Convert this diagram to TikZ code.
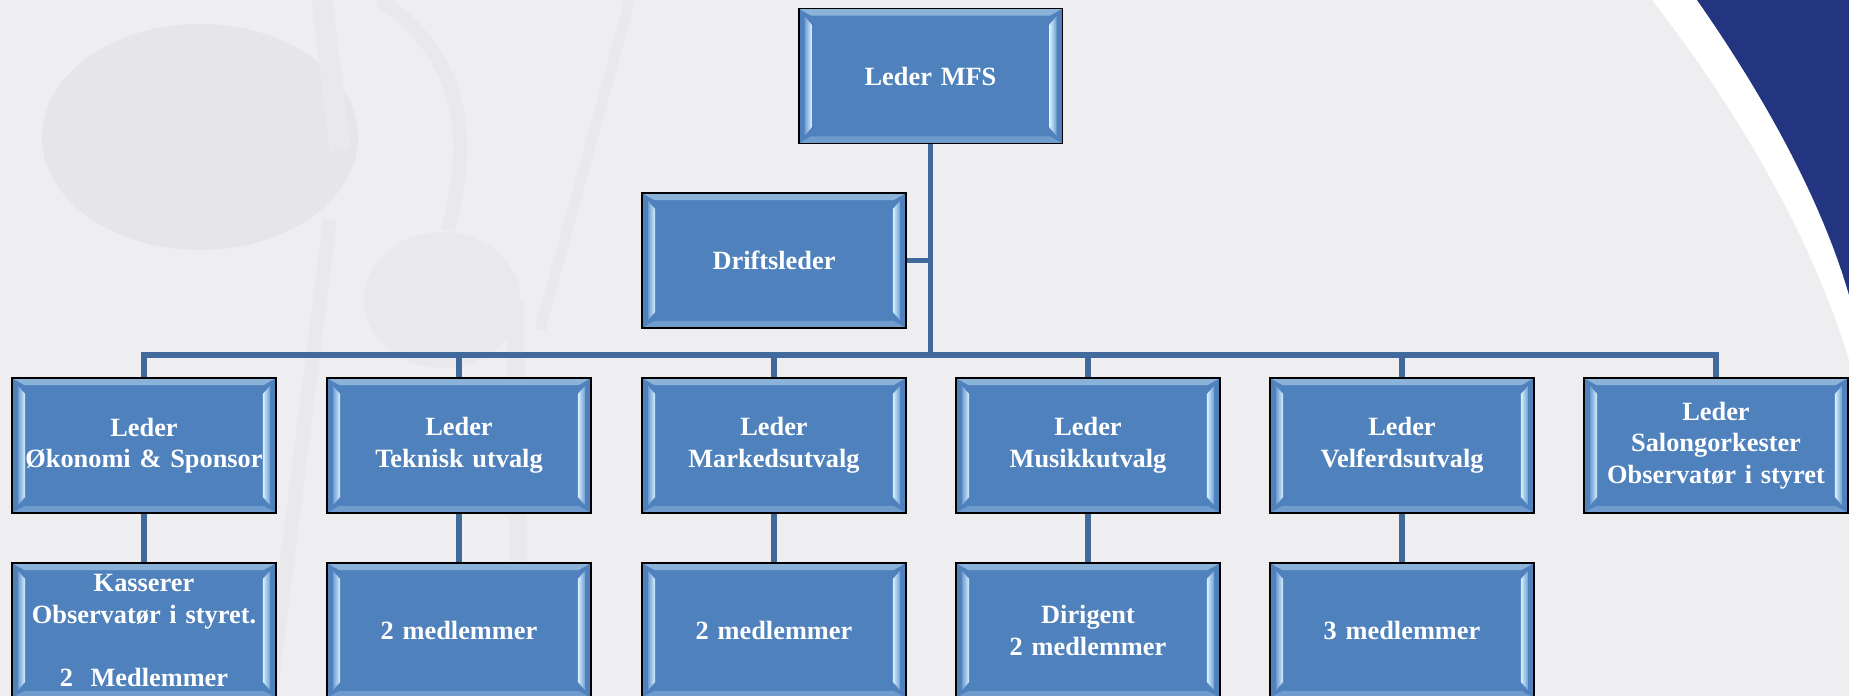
\documentclass[tikz,border=0pt]{standalone}
\usepackage{fontspec}
\setmainfont{Liberation Serif}

\definecolor{bgpaper}{HTML}{EEEDEF}
\definecolor{notegray}{HTML}{E6E5E7}
\definecolor{stemgray}{HTML}{E9E8EA}
\definecolor{boxblue}{HTML}{4F81BD}
\definecolor{linkblue}{HTML}{41699C}
\definecolor{navyswoosh}{HTML}{233580}
\definecolor{bevelhi}{HTML}{D6F0FF}
\definecolor{bevello}{HTML}{6F9DD2}

\tikzset{
    orgbox/.style={draw=black, line width=1.1pt, fill=boxblue, minimum width=5.28cm, minimum height=2.7cm,
        text width=5.2cm, inner sep=0pt, align=center, text=white, font=\bfseries\fontsize{15}{18}\selectfont,
        path picture={
            \fill[bevelhi, opacity=0.45] (path picture bounding box.north west) -- (path picture bounding box.north east)
                -- ([xshift=-7pt,yshift=-4pt]path picture bounding box.north east) -- ([xshift=7pt,yshift=-4pt]path picture bounding box.north west) -- cycle;
            \fill[bevelhi, opacity=0.25] (path picture bounding box.south west) -- (path picture bounding box.south east)
                -- ([xshift=-7pt,yshift=4pt]path picture bounding box.south east) -- ([xshift=7pt,yshift=4pt]path picture bounding box.south west) -- cycle;
            \shade[left color=bevello, right color=bevelhi] ([xshift=3.4pt,yshift=-4.5pt]path picture bounding box.north west)
                -- ([xshift=7.4pt,yshift=-9pt]path picture bounding box.north west) -- ([xshift=7.4pt,yshift=9pt]path picture bounding box.south west)
                -- ([xshift=3.4pt,yshift=4.5pt]path picture bounding box.south west) -- cycle;
            \shade[left color=bevelhi, right color=bevello] ([xshift=-3.4pt,yshift=-4.5pt]path picture bounding box.north east)
                -- ([xshift=-7.4pt,yshift=-9pt]path picture bounding box.north east) -- ([xshift=-7.4pt,yshift=9pt]path picture bounding box.south east)
                -- ([xshift=-3.4pt,yshift=4.5pt]path picture bounding box.south east) -- cycle;
        }},
    link/.style={draw=linkblue, line width=3.4pt}
}

\begin{document}
\begin{tikzpicture}[x=0.02cm, y=-0.02cm]
            \useasboundingbox (0, 0) rectangle (1849, 696);
            \clip (0, 0) rectangle (1849, 696);
            \fill[bgpaper] (0, 0) rectangle (1849, 696);
            % faint notes behind
            \fill[notegray] (200, 137) ellipse [x radius=158, y radius=113];
            \fill[stemgray] (442, 300) ellipse [x radius=78, y radius=68];
            \draw[stemgray, line width=12pt] (340, 150) -- (322, 0);
            \draw[stemgray, line width=10pt] (515, 300) -- (520, 696);
            \draw[stemgray, line width=8pt] (380, 0) .. controls (470, 60) and (470, 150) .. (448, 230);
            \draw[stemgray, line width=8pt] (330, 220) -- (270, 696);
            \draw[stemgray, line width=6pt] (630, 0) -- (540, 330);
            % corner swoosh
            \fill[white] (1652, 0) .. controls (1730, 100) and (1810, 230) .. (1849, 360) -- (1849, 0) -- cycle;
            \fill[navyswoosh] (1697, 0) .. controls (1760, 90) and (1820, 195) .. (1849, 295) -- (1849, 0) -- cycle;

            \node[orgbox] (ledermfs) at (930.5, 76) {Leder MFS};
            \node[orgbox] (drift) at (774, 260.5) {Driftsleder};

            \node[orgbox] (okonomi) at (144, 445.5) {Leder\\Økonomi \& Sponsor};
            \node[orgbox] (teknisk) at (459, 445.5) {Leder\\Teknisk utvalg};
            \node[orgbox] (marked) at (774, 445.5) {Leder\\Markedsutvalg};
            \node[orgbox] (musikk) at (1088, 445.5) {Leder\\Musikkutvalg};
            \node[orgbox] (velferd) at (1402, 445.5) {Leder\\Velferdsutvalg};
            \node[orgbox] (salong) at (1716, 445.5) {Leder\\Salongorkester\\Observatør i styret};

            \node[orgbox] (kasserer) at (144, 630.5) {Kasserer\\Observatør i styret.\\[18pt]2\ \ Medlemmer};
            \node[orgbox] (teknmed) at (459, 630.5) {2 medlemmer};
            \node[orgbox] (markmed) at (774, 630.5) {2 medlemmer};
            \node[orgbox] (dirigent) at (1088, 630.5) {Dirigent\\2 medlemmer};
            \node[orgbox] (velfmed) at (1402, 630.5) {3 medlemmer};

            \coordinate (bus) at (931, 355);
            \draw[link] (ledermfs.south) -- (ledermfs.south |- bus);
            \draw[link] (drift.east) -- (drift.east -| ledermfs.south);
            \draw[link] (okonomi.north) -- (okonomi.north |- bus) -- (salong.north |- bus) -- (salong.north);
            \foreach \top/\low in {teknisk/teknmed, marked/markmed, musikk/dirigent, velferd/velfmed} {
                \draw[link] (\top.north) -- (\top.north |- bus);
                \draw[link] (\top.south) -- (\low.north);
            }
            \draw[link] (okonomi.south) -- (kasserer.north);
        \end{tikzpicture}
\end{document}
